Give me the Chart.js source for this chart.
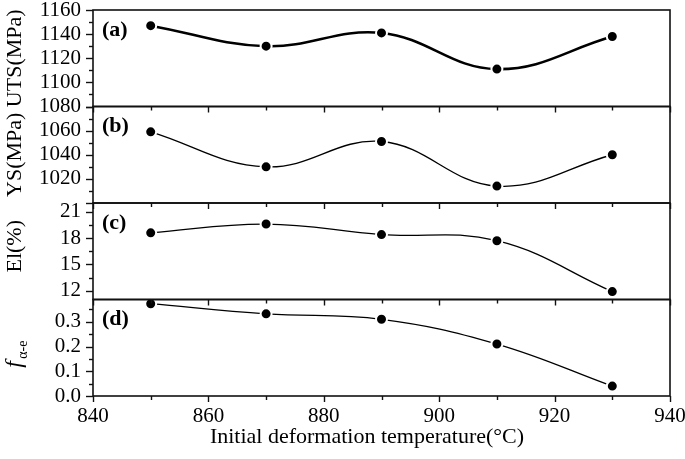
<!DOCTYPE html>
<html>
<head>
<meta charset="utf-8">
<script src="https://cdn.jsdelivr.net/npm/chart.js@4.4.1/dist/chart.umd.min.js"></script>
<style>
  html, body { margin: 0; padding: 0; background: #fff; }
</style>
</head>
<body>
<canvas id="grafica" width="685" height="459"></canvas>
<script>
// Datos
const temperaturas = [850, 870, 890, 910, 930];
const uts = [1147, 1130, 1141, 1111, 1138];
const ys = [1059, 1030, 1051, 1014, 1040];
const elongacion = [18.6, 19.6, 18.4, 17.7, 11.9];
const fraccion = [0.373, 0.332, 0.31, 0.21, 0.04];

// Etiquetas de los ejes
const ticksX = [840, 860, 880, 900, 920, 940];
const ticksUTS = [1080, 1100, 1120, 1140, 1160];
const ticksYS = [1020, 1040, 1060];
const ticksEl = [12, 15, 18, 21];
const ticksF = [0.0, 0.1, 0.2, 0.3];

const SERIF = "'Liberation Serif', 'Times New Roman', serif";

// Configuración de cada panel (de arriba hacia abajo)
const paneles = [
  { id: 'ya', letra: '(a)', titulo: 'UTS(MPa)', min: 1080, max: 1160, mayor: 20, menor: 10, ticks: ticksUTS, datos: uts, grosor: 2.6, dy: 0 },
  { id: 'yb', letra: '(b)', titulo: 'YS(MPa)', min: 1000, max: 1080, mayor: 20, menor: 10, ticks: ticksYS, datos: ys, grosor: 1.3, dy: 0 },
  { id: 'yc', letra: '(c)', titulo: 'El(%)', min: 11, max: 22, mayor: 3, menor: 1.5, ticks: ticksEl, datos: elongacion, grosor: 1.3, dy: -5 },
  { id: 'yd', letra: '(d)', titulo: null, min: 0, max: 0.39, mayor: 0.1, menor: 0.05, ticks: ticksF, datos: fraccion, grosor: 1.3, dy: 6 }
];

// Plugin para dibujar marcos, ticks menores, letras y títulos
const pluginMarco = {
  id: 'marco',
  afterDraw(chart) {
    const ctx = chart.ctx;
    const { left, right } = chart.chartArea;
    const sx = chart.scales.x;
    ctx.save();
    ctx.strokeStyle = '#111';
    ctx.fillStyle = '#000';

    paneles.forEach(p => {
      const s = chart.scales[p.id];
      ctx.lineWidth = 1.6;
      ctx.strokeRect(left, s.top, right - left, s.bottom - s.top);

      // ticks en y (hacia afuera)
      ctx.lineWidth = 1.4;
      const inicio = Math.ceil(p.min / p.menor - 1e-6);
      const fin = Math.floor(p.max / p.menor + 1e-6);
      for (let i = inicio; i <= fin; i++) {
        const v = i * p.menor;
        const r = v / p.mayor;
        const esMayor = Math.abs(r - Math.round(r)) < 1e-6;
        const y = Math.round(s.getPixelForValue(v)) + 0.5;
        ctx.beginPath();
        ctx.moveTo(left, y);
        ctx.lineTo(left - (esMayor ? 7 : 4), y);
        ctx.stroke();
      }

      // ticks en x bajo cada panel
      for (let v = 840; v <= 940; v += 10) {
        const x = Math.round(sx.getPixelForValue(v)) + 0.5;
        ctx.beginPath();
        ctx.moveTo(x, s.bottom);
        ctx.lineTo(x, s.bottom + (v % 20 === 0 ? 6 : 4));
        ctx.stroke();
      }

      // letra del panel
      ctx.font = 'bold 22px ' + SERIF;
      ctx.textAlign = 'left';
      ctx.textBaseline = 'middle';
      ctx.fillText(p.letra, left + 9, s.top + 20);

      // título del eje y
      const cy = (s.top + s.bottom) / 2 + p.dy;
      ctx.save();
      ctx.translate(15, cy);
      ctx.rotate(-Math.PI / 2);
      if (p.titulo) {
        ctx.font = '22px ' + SERIF;
        ctx.textAlign = 'center';
        ctx.textBaseline = 'middle';
        ctx.fillText(p.titulo, 0, 0);
      } else {
        ctx.font = 'italic 24px ' + SERIF;
        ctx.textAlign = 'left';
        ctx.textBaseline = 'alphabetic';
        ctx.fillText('f', -14, 6);
        ctx.font = '14px ' + SERIF;
        ctx.fillText('α-e', -5, 12);
      }
      ctx.restore();
    });

    // título del eje x
    ctx.font = '22px ' + SERIF;
    ctx.textAlign = 'center';
    ctx.textBaseline = 'middle';
    ctx.fillText('Initial deformation temperature(°C)', 367, 437);
    ctx.restore();
  }
};

const escalas = {
  x: {
    type: 'linear',
    position: 'bottom',
    min: 840,
    max: 940,
    afterBuildTicks: s => { s.ticks = ticksX.map(v => ({ value: v })); },
    afterFit: s => { s.height = 63; s.paddingLeft = 0; s.paddingRight = 0; },
    grid: { display: false, drawTicks: false },
    border: { display: false },
    ticks: { font: { family: SERIF, size: 21 }, color: '#000', padding: 8, autoSkip: false, maxRotation: 0 }
  }
};

// Los ejes apilados se colocan de abajo hacia arriba, por eso se definen al revés
paneles.slice().reverse().forEach(p => {
  escalas[p.id] = {
    type: 'linear',
    position: 'left',
    stack: 'paneles',
    stackWeight: 1,
    min: p.min,
    max: p.max,
    afterBuildTicks: s => { s.ticks = p.ticks.map(v => ({ value: v })); },
    afterFit: s => { s.width = 93; s.paddingTop = 0; s.paddingBottom = 0; },
    grid: { display: false, drawTicks: false },
    border: { display: false },
    ticks: {
      font: { family: SERIF, size: 21 },
      color: '#000',
      padding: 12,
      autoSkip: false,
      callback: v => (p.id === 'yd' ? v.toFixed(1) : v)
    }
  };
});

new Chart(document.getElementById('grafica'), {
  type: 'line',
  data: {
    datasets: paneles.map(p => ({
      label: p.letra,
      data: temperaturas.map((t, i) => ({ x: t, y: p.datos[i] })),
      yAxisID: p.id,
      xAxisID: 'x',
      borderColor: '#000',
      borderWidth: p.grosor,
      tension: 0.4,
      pointRadius: 5.5,
      pointBackgroundColor: '#000',
      pointBorderColor: '#fff',
      pointBorderWidth: 2,
      clip: false
    }))
  },
  options: {
    responsive: false,
    animation: false,
    devicePixelRatio: 1,
    layout: { padding: { top: 10, right: 15, left: 0, bottom: 0 } },
    plugins: { legend: { display: false }, tooltip: { enabled: false } },
    scales: escalas
  },
  plugins: [pluginMarco]
});
</script>
</body>
</html>
